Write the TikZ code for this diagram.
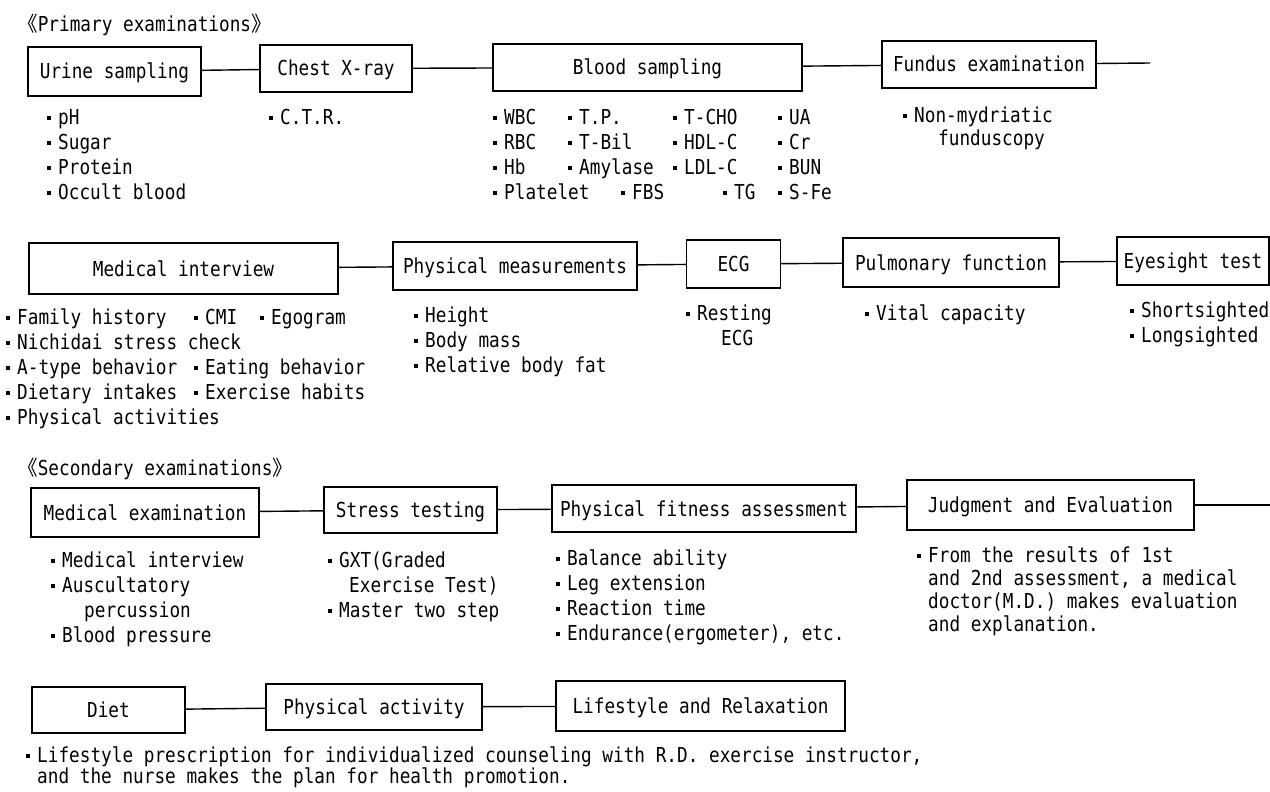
\documentclass[tikz,border=0pt]{standalone}
\usepackage{fontspec}
\setmainfont{DejaVu Sans Mono}[FakeStretch=0.86]
\newfontfamily\cjk{Noto Sans CJK JP}
\newcommand{\bul}{\makebox[14pt][l]{\hspace{3pt}\rule[5pt]{3.5pt}{3.5pt}}}

\begin{document}
\begin{tikzpicture}[x=1pt, y=-1pt,
    font=\fontsize{20.6}{25}\selectfont,
    exam/.style ={draw, line width=1.4pt, inner sep=0pt, text height=15pt, text depth=0pt},
    item/.style ={anchor=base west, inner sep=0pt},
    link/.style ={line width=1.4pt}]
   \useasboundingbox (0,0) rectangle (1270,792);

   % primary examinations
   \node[item] (prim) at (17,31.5) {{\cjk 《}Primary examinations{\cjk 》}};
   \node[exam, minimum width=173pt, minimum height=49pt] (urine)  at (114.5,71.5) {Urine sampling};
   \node[exam, minimum width=152pt, minimum height=47pt] (chest)  at (336,68.5)   {Chest X-ray};
   \node[exam, minimum width=309pt, minimum height=47pt] (blood)  at (647.5,67.5) {Blood sampling};
   \node[exam, minimum width=214pt, minimum height=47pt] (fundus) at (989,64.5)   {Fundus examination};
   \coordinate (end1) at (1150,63);
   \draw[link] (urine) -- (chest);
   \draw[link] (chest) -- (blood);
   \draw[link] (blood) -- (fundus);
   \draw[link] (fundus) -- (end1);

   \foreach \t [count=\i] in {pH, Sugar, Protein, Occult blood}
     \node[item] (urine-\i) at (44,99.5+25*\i) {\bul\t};
   \node[item] (ctr) at (266,124.5) {\bul C.T.R.};
   \foreach \t [count=\i] in {WBC, RBC, Hb, Platelet}
     \node[item] (bloodA-\i) at (490,99.5+25*\i) {\bul\t};
   \foreach \t [count=\i] in {T.P., T-Bil, Amylase}
     \node[item] (bloodB-\i) at (565,99.5+25*\i) {\bul\t};
   \foreach \t [count=\i] in {T-CHO, HDL-C, LDL-C}
     \node[item] (bloodC-\i) at (670,99.5+25*\i) {\bul\t};
   \foreach \t [count=\i] in {UA, Cr, BUN, S-Fe}
     \node[item] (bloodD-\i) at (775,99.5+25*\i) {\bul\t};
   \node[item] (fbs) at (618,199.5) {\bul FBS};
   \node[item] (tg)  at (720,199.5) {\bul TG};
   \node[item] (fundus-1) at (900,122.5) {\bul Non-mydriatic};
   \node[item] (fundus-2) at (938,145.5) {funduscopy};

   \node[exam, minimum width=309pt, minimum height=51pt] (interview) at (183.5,268.5) {Medical interview};
   \node[exam, minimum width=244pt, minimum height=48pt] (measure)   at (515,266)     {Physical measurements};
   \node[exam, minimum width=94pt,  minimum height=48pt] (ecg)       at (733.5,264)   {ECG};
   \node[exam, minimum width=216pt, minimum height=49pt] (pulmo)     at (951,262.5)   {Pulmonary function};
   \node[exam, minimum width=152pt, minimum height=48pt] (eye)       at (1193,261)    {Eyesight test};
   \draw[link] (interview) -- (measure);
   \draw[link] (measure) -- (ecg);
   \draw[link] (ecg) -- (pulmo);
   \draw[link] (pulmo) -- (eye);

   \foreach \t [count=\i] in {Family history, Nichidai stress check, A-type behavior, Dietary intakes, Physical activities}
     \node[item] (interview-\i) at (3,299.5+25*\i) {\bul\t};
   \node[item] (cmi)     at (191,324.5) {\bul CMI};
   \node[item] (egogram) at (257,324.5) {\bul Egogram};
   \node[item] (eating)  at (191,374.5) {\bul Eating behavior};
   \node[item] (habits)  at (191,399.5) {\bul Exercise habits};
   \foreach \t [count=\i] in {Height, Body mass, Relative body fat}
     \node[item] (measure-\i) at (411,297.5+25*\i) {\bul\t};
   \node[item] (ecg-1) at (683,320.5) {\bul Resting};
   \node[item] (ecg-2) at (721,345.5) {ECG};
   \node[item] (pulmo-1) at (862,320.5) {\bul Vital capacity};
   \node[item] (eye-1) at (1127,317.5) {\bul Shortsighted};
   \node[item] (eye-2) at (1127,342.5) {\bul Longsighted};

   % secondary examinations
   \node[item] (second) at (17,475.5) {{\cjk 《}Secondary examinations{\cjk 》}};
   \node[exam, minimum width=228pt, minimum height=49pt] (medex)   at (145,512.5)   {Medical examination};
   \node[exam, minimum width=173pt, minimum height=46pt] (stress)  at (410.5,510)   {Stress testing};
   \node[exam, minimum width=304pt, minimum height=47pt] (fitness) at (704,508.5)   {Physical fitness assessment};
   \node[exam, minimum width=287pt, minimum height=50pt] (judge)   at (1050.5,505)  {Judgment and Evaluation};
   \coordinate (end2) at (1270,505);
   \draw[link] (medex) -- (stress);
   \draw[link] (stress) -- (fitness);
   \draw[link] (fitness) -- (judge);
   \draw[link] (judge) -- (end2);

   \node[item] (medex-1) at (48,567.5) {\bul Medical interview};
   \node[item] (medex-2) at (48,592.5) {\bul Auscultatory};
   \node[item] (medex-3) at (84,617.5) {percussion};
   \node[item] (medex-4) at (48,642.5) {\bul Blood pressure};
   \node[item] (stress-1) at (325,567.5) {\bul GXT(Graded};
   \node[item] (stress-2) at (349,592.5) {Exercise Test)};
   \node[item] (stress-3) at (325,617.5) {\bul Master two step};
   \foreach \t [count=\i] in {Balance ability, Leg extension, Reaction time, {Endurance(ergometer), etc.}}
     \node[item] (fitness-\i) at (553,540.5+25*\i) {\bul\t};
   \node[item] (judge-1) at (914,562.5) {\bul From the results of 1st};
   \node[item] (judge-2) at (928,585.5) {and 2nd assessment, a medical};
   \node[item] (judge-3) at (928,608.5) {doctor(M.D.) makes evaluation};
   \node[item] (judge-4) at (928,631.5) {and explanation.};

   \node[exam, minimum width=153pt, minimum height=46pt] (diet)  at (108.5,710) {Diet};
   \node[exam, minimum width=216pt, minimum height=46pt] (activ) at (374,707)   {Physical activity};
   \node[exam, minimum width=289pt, minimum height=50pt] (life)  at (700.5,706) {Lifestyle and Relaxation};
   \draw[link] (diet) -- (activ);
   \draw[link] (activ) -- (life);

   \node[item] (life-1) at (23,762.5) {\bul Lifestyle prescription for individualized counseling with R.D. exercise instructor,};
   \node[item] (life-2) at (37,783.5) {and the nurse makes the plan for health promotion.};
\end{tikzpicture}
\end{document}
